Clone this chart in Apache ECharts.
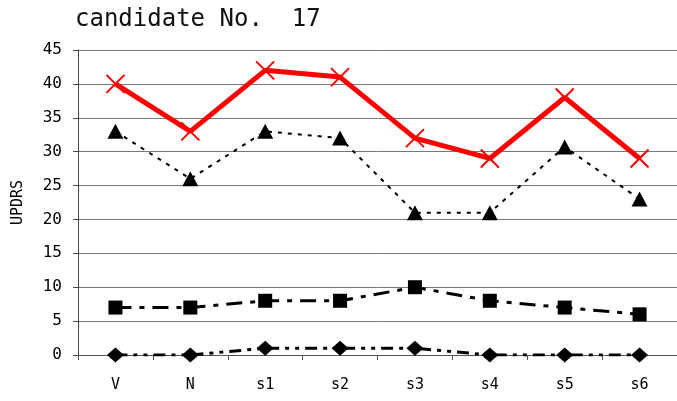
<!DOCTYPE html>
<html>
<head>
<meta charset="utf-8">
<script src="https://cdn.jsdelivr.net/npm/echarts@6/dist/echarts.min.js"></script>
<style>html,body{margin:0;padding:0;background:#fff;}#c{width:677px;height:401px;}</style>
</head>
<body>
<div id="c"></div>
<script>
const titleText = 'candidate No.  17';
const yAxisName = 'UPDRS';
const categories = ['V', 'N', 's1', 's2', 's3', 's4', 's5', 's6'];
const seriesCross = [40, 33, 42, 41, 32, 29, 38, 29];
const seriesTriangle = [33, 26, 33, 32, 21, 21, 30.7, 23];
const seriesSquare = [7, 7, 8, 8, 10, 8, 7, 6];
const seriesDiamond = [0, 0, 1, 1, 1, 0, 0, 0];
const yTicks = { min: 0, max: 45, interval: 5 };

const FONT = '"DejaVu Sans Mono", monospace';
const chart = echarts.init(document.getElementById('c'), null, { renderer: 'canvas' });
chart.setOption({
  animation: false,
  backgroundColor: '#fff',
  title: {
    text: titleText, left: 70, top: 3,
    textStyle: { fontFamily: FONT, fontSize: 24, fontWeight: 'normal', color: '#111' }
  },
  grid: { left: 78, top: 50, width: 608, height: 305 },
  xAxis: {
    type: 'category', data: categories, boundaryGap: true,
    axisLine: { lineStyle: { color: '#555', width: 1 } },
    axisTick: { show: true, length: 5, lineStyle: { color: '#555' }, alignWithLabel: false },
    axisLabel: { fontFamily: FONT, fontSize: 15, color: '#000', margin: 23 },
    splitLine: { show: false }
  },
  yAxis: {
    type: 'value', min: yTicks.min, max: yTicks.max, interval: yTicks.interval,
    name: yAxisName, nameLocation: 'middle', nameGap: 52, nameRotate: 90,
    nameTextStyle: { fontFamily: FONT, fontSize: 15, color: '#000' },
    axisLine: { show: true, lineStyle: { color: '#444', width: 1 } },
    axisTick: { show: true, length: 5, lineStyle: { color: '#444' } },
    axisLabel: { fontFamily: FONT, fontSize: 16, color: '#000', margin: 16 },
    splitLine: { show: true, lineStyle: { color: '#777', width: 1 } }
  },
  series: [
    {
      type: 'line', data: seriesDiamond, symbol: 'diamond', symbolSize: [17, 15],
      itemStyle: { color: '#000' },
      lineStyle: { color: '#000', width: 3, type: [12, 6, 4, 6, 4, 6], cap: 'butt' }, z: 2
    },
    {
      type: 'line', data: seriesSquare, symbol: 'rect', symbolSize: 14,
      itemStyle: { color: '#000' },
      lineStyle: { color: '#000', width: 3, type: [16, 8, 5, 8], cap: 'butt' }, z: 3
    },
    {
      type: 'line', data: seriesTriangle, symbol: 'triangle', symbolSize: [16, 15],
      itemStyle: { color: '#000' },
      lineStyle: { color: '#000', width: 2, type: [4, 6], cap: 'butt' }, z: 4
    },
    {
      type: 'line', data: seriesCross, symbol: 'path://M0,0L10,10M10,0L0,10', symbolSize: 18,
      itemStyle: { color: 'none', borderColor: '#ff0000', borderWidth: 2 },
      lineStyle: { color: '#ff0000', width: 5, type: 'solid' }, z: 5
    }
  ]
});
</script>
</body>
</html>
